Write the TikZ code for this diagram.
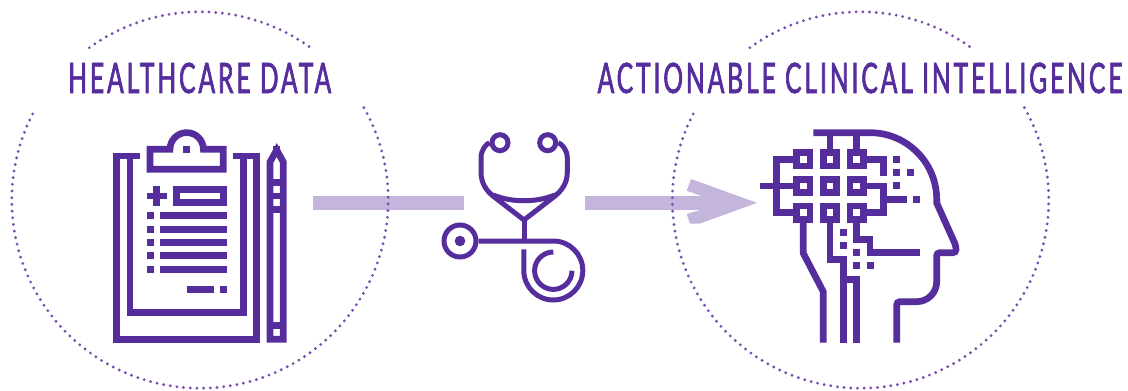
\documentclass[tikz,border=0pt]{standalone}
\usepackage{fontspec}
\newfontfamily\labelfont[FakeStretch=0.585,LetterSpace=7,FakeBold=1.6]{Lato}
\usetikzlibrary{positioning}
\definecolor{iconpurple}{HTML}{552D9C}
\definecolor{ringpurple}{HTML}{7A50AE}
\definecolor{barlilac}{HTML}{C3B5DC}
\tikzset{
	icon/.style={draw=iconpurple, line width=6.67pt},
	thinicon/.style={draw=iconpurple, line width=5pt},
	ringdots/.style={draw=ringpurple, line width=3.2pt, line cap=round, dash pattern=on 0pt off 6.7pt},
	bar/.style={draw=barlilac, line width=13.4pt},
	title/.style={text=iconpurple, font=\labelfont\fontsize{42}{42}\selectfont, inner sep=0pt},
	chip/.style={icon, rectangle, minimum size=13.33pt, inner sep=0pt},
	ear/.style={thinicon, circle, minimum size=16pt, inner sep=0pt}
}

\begin{document}
\begin{tikzpicture}[x=1pt,y=-1pt]
	\useasboundingbox (0,0) rectangle (1128,391);
	% Draw bars
	\coordinate (boardbar) at (313,202.8);
	\coordinate (stethbar) at (464,202.8);
	\coordinate (arrowtail) at (585,202.8);
	\coordinate (arrowneck) at (705,202.8);
	\draw[bar] (boardbar) -- (stethbar);
	\draw[bar] (arrowtail) -- (arrowneck);
	\fill[barlilac] (701.7,196) -- (686.7,190.7) -- (691,179) -- (757,202.8) -- (700,223.5) -- (690,223.5) -- (686.7,214) -- (701.7,209.5) -- cycle;
	% Draw rings
	\foreach \cx in {200,860.5} {
		\draw[ringdots] (\cx,200) ++(-29.4:188.2) arc[start angle=-29.4, end angle=208.5, radius=188.2];
		\draw[ringdots] (\cx,200) ++(-126:188.2) arc[start angle=-126, end angle=-54.5, radius=188.2];
	}
	% Draw titles
	\node[title] (healthdata) at (199.7,78) {HEALTHCARE DATA};
	\node[title] (clinical) at (860,78) {ACTIONABLE CLINICAL INTELLIGENCE};
	% Draw clipboard
	\draw[icon] (140,156) -- (116.7,156) -- (116.7,339.3) -- (256.7,339.3) -- (256.7,156) -- (233.3,156);
	\draw[icon] (130,156) -- (130,312.7) -- (243.3,312.7) -- (243.3,156);
	\draw[icon] (150,149.3) -- (170,149.3) arc[start angle=180, end angle=360, radius=16.7] -- (223.3,149.3) -- (223.3,169.3) -- (150,169.3) -- cycle;
	\draw[icon] (183.3,149.3) -- (190,149.3);
	\draw[icon] (146.7,196) -- (166.7,196);
	\draw[icon] (156.7,186) -- (156.7,206);
	\draw[icon] (176.7,189.3) rectangle (223.3,202.7);
	\foreach \y in {215.3,229.3,242.3,255.3,269.3} {
		\draw[icon] (146.7,\y) -- (154,\y);
		\draw[icon] (160,\y) -- (226.7,\y);
	}
	\draw[icon] (187,289.3) -- (214,289.3);
	\draw[icon] (220,289.3) -- (227,289.3);
	% Draw pen
	\draw[icon] (270,339.3) -- (270,162) -- (276.7,150) -- (283.3,162) -- (283.3,339.3) -- cycle;
	\draw[icon] (276.7,146) -- (276.7,155);
	\foreach \y in {182.7,196,209.3,325.3}
		\draw[icon] (270,\y) -- (283.3,\y);
	% Draw stethoscope
	\node[ear] (earleft) at (500,142.7) {};
	\node[ear] (earright) at (547.7,142.7) {};
	\node[ear, minimum size=32pt] (chest) at (460,241) {};
	\fill[iconpurple] (chest) circle (5.3);
	\draw[thinicon] (earleft.west) .. controls (486,144) and (481,150) .. (481,158) -- (481,172) .. controls (481,184) and (487,191) .. (493,196) -- (524,220) -- (555,196) .. controls (561,191) and (567.3,184) .. (567.3,172) -- (567.3,158) .. controls (567.3,150) and (562,144) .. (earright.east);
	\draw[thinicon] (493,195) .. controls (503,199) and (513,200.7) .. (524,200.7) .. controls (535,200.7) and (545,199) .. (555,195);
	\draw[thinicon] (524,220) -- (524,241);
	\draw[thinicon] (chest.east) -- (553.3,241) arc[start angle=-90, end angle=180, radius=29.5] -- (523.8,249.3);
	\draw[thinicon] (553.3,252) arc[start angle=-90, end angle=-360, radius=18.7];
	% Draw chips
	\foreach \c/\x in {1/803.3,2/830,3/856.7}
		\foreach \r/\y in {1/159.3,2/186,3/212.7}
			\node[chip] (chip\c\r) at (\x,\y) {};
	% Draw head
	\coordinate (crown) at (813.3,132.7);
	\draw[icon] (crown) -- (870,132.7) arc[start angle=-90, end angle=0, radius=66.7] -- (936.7,203) [rounded corners=3pt] -- (956,246) -- (956,252.7) -- (936.7,252.7) [sharp corners] -- (936.7,281.7) arc[start angle=0, end angle=90, radius=20] [rounded corners=3pt] -- (896.7,301.7) [sharp corners] -- (896.7,342.7);
	% Draw wires
	\draw[icon] (chip21.north) -- (chip21.north |- crown);
	\draw[icon] (chip31.north) -- (chip31.north |- crown);
	\draw[icon] (chip11.west) -- (776.7,159.3) -- (776.7,212.7) -- (chip13.west);
	\draw[icon] (760,186) -- (chip12.west);
	\draw[icon] (chip31.east) -- (883.3,159.3) -- (883.3,176);
	\draw[icon] (chip32.east) -- (883.3,186) -- (883.3,212.7) -- (chip33.east);
	\draw[icon] (883.3,199.3) -- (906.7,199.3);
	\draw[icon] (chip13.south) -- (803.3,253.3) -- (823.3,291.7) -- (823.3,342.7);
	\draw[icon] (chip23.south) -- (830,259.3) -- (843.3,259.3) -- (843.3,342.7);
	\draw[icon] (chip33.south) -- (856.7,239.3) -- (870,239.3) -- (870,252.7) -- (920,252.7);
	\draw[icon] (843.3,279.3) -- (856.7,279.3) -- (856.7,342.7);
	% Draw loose bits
	\foreach \x/\y in {893.3/159.3,893.3/172.7,893.3/185.7,907.3/172.7,913.3/199.3,840/232.3,840/245.3,853/252.3,853/265.3,867/265.3}
		\draw[icon] (\x,\y) -- ++(6.9,0);
\end{tikzpicture}
\end{document}
